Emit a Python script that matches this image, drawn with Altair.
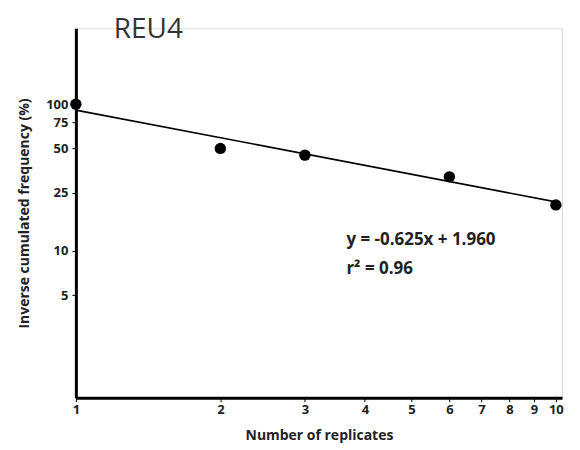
import altair as alt
import pandas as pd

replicates = [1, 2, 3, 6, 10]
frequency = [100, 50, 45, 32, 20.6]
fit_x = [1, 10]
fit_y = [91.2, 21.6]
x_ticks = [1, 2, 3, 4, 5, 6, 7, 8, 9, 10]
y_ticks = [5, 10, 25, 50, 75, 100]
equation = ["y = -0.625x + 1.960", "r² = 0.96"]
panel_title = "REU4"

pts = pd.DataFrame({"x": replicates, "y": frequency})
fit = pd.DataFrame({"x": fit_x, "y": fit_y})
ttl = pd.DataFrame({"t": [panel_title]})

FONT = "Open Sans"
xs = alt.Scale(type="log", domain=[1, 10.3], nice=False)
ys = alt.Scale(type="log", domain=[1, 329], nice=False)

xaxis = alt.Axis(values=x_ticks, title="Number of replicates", grid=False,
                 domainWidth=3, domainColor="black", tickColor="black",
                 tickSize=4, labelFontWeight="bold", labelFont=FONT, labelFontSize=13,
                 labelColor="#222", titleFont=FONT, titleFontSize=14, titleFontWeight="bold",
                 titleColor="#222", titlePadding=12, labelFlush=False, format="d")
yaxis = alt.Axis(values=y_ticks, title="Inverse cumulated frequency (%)", grid=False,
                 domainWidth=3, domainColor="black", tickColor="black",
                 tickSize=4, labelPadding=4, labelFontWeight="bold", labelFont=FONT,
                 labelFontSize=13, labelColor="#222", titleFont=FONT, titleFontSize=14,
                 titleFontWeight="bold", titleColor="#222", titlePadding=14,
                 labelFlush=False, format="d", labelOverlap=False)

points = alt.Chart(pts).mark_circle(size=130, color="black", opacity=1).encode(
    x=alt.X("x:Q", scale=xs, axis=xaxis),
    y=alt.Y("y:Q", scale=ys, axis=yaxis),
)
line = alt.Chart(fit).mark_line(color="black", strokeWidth=1.6).encode(
    x=alt.X("x:Q", scale=xs, axis=xaxis), y=alt.Y("y:Q", scale=ys, axis=yaxis)
)

def label(txt, ypix):
    return alt.Chart(pd.DataFrame({"t": [txt]})).mark_text(
        align="left", baseline="middle", font=FONT, fontSize=17,
        fontWeight="bold", color="#222").encode(
        x=alt.value(271), y=alt.value(ypix), text="t:N")

eq1 = label(equation[0], 212)
eq2 = label(equation[1], 241)
title = alt.Chart(ttl).mark_text(align="left", baseline="alphabetic", font=FONT,
                                 fontSize=28, color="#333").encode(
    x=alt.value(38), y=alt.value(10), text="t:N"
)

chart = alt.layer(line, points, eq1, eq2, title).properties(
    width=487, height=370,
    autosize=alt.AutoSizeParams(type="none"),
    padding={"left": 68, "top": 20, "right": 10, "bottom": 50},
).configure_view(stroke=None).configure(background="white")

chart.save("out.html", embed_options={"renderer": "svg", "actions": False})
